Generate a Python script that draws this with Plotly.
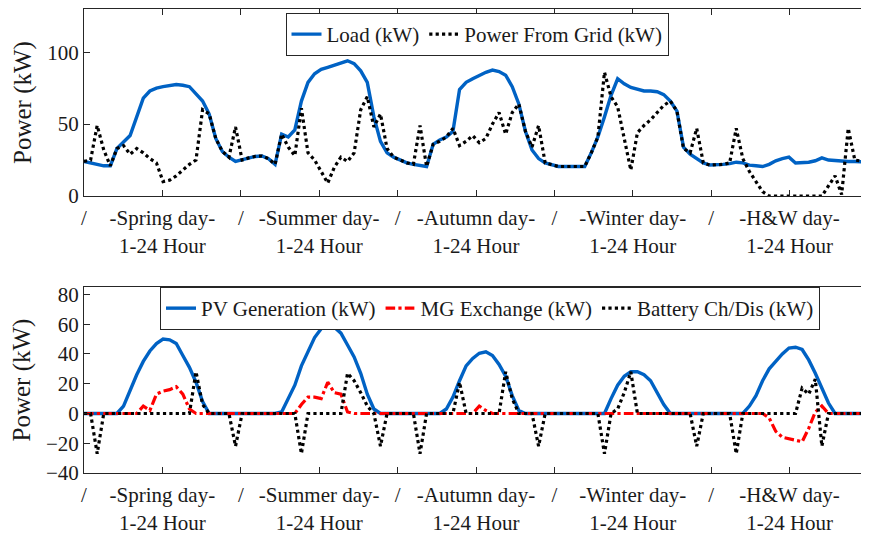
import plotly.graph_objects as go

hours = list(range(1, 121))

load_kw = [
    # Spring
    24, 23, 22, 21, 21, 33, 37.5, 42, 55, 68, 73, 75, 76, 77, 77.5, 77, 76, 71, 66, 57, 40, 31, 27, 24,
    # Summer
    25, 26.5, 27.5, 27.8, 26, 22, 43, 41, 46, 66, 79, 85, 88, 89.5, 91, 93, 94, 92, 87, 79, 55, 38, 30, 27,
    # Autumn
    25, 23, 22, 21, 20.5, 36, 39, 41, 45, 74, 79, 81.5, 84, 86, 87.5, 86.5, 84, 76, 64, 45, 32, 26, 23, 21.5,
    # Winter
    20.5, 20.5, 20.5, 20.5, 20.5, 30, 41, 55, 70, 81.5, 78, 75.5, 74, 73, 73, 72.5, 70.5, 66, 59, 34, 29, 26, 23, 21.5,
    # H&W
    21.5, 22, 22.5, 23.5, 23, 21.5, 21, 20.5, 22, 24.5, 26, 27, 23, 23, 23.5, 24.5, 26.5, 25, 24.5, 24, 24, 24, 23.5, 23.5,
]

grid_kw = [
    # Spring
    24, 25, 49, 32, 21, 33, 35, 29, 33, 30, 26, 23, 10, 11, 14, 18, 22, 25, 60, 57, 40, 31, 27, 48,
    # Summer
    25, 26.5, 27.5, 27.8, 26, 22, 43, 34, 28, 61, 30, 25, 17, 9, 20, 27, 24, 30, 60, 69, 48, 57, 33, 27,
    # Autumn
    25, 23, 22, 49, 20.5, 36, 38, 41, 47, 35, 38, 42, 37, 40, 50, 58, 43, 58, 64, 45, 34, 49, 23, 21.5,
    # Winter
    20.5, 20.5, 20.5, 20.5, 20.5, 30, 41, 86, 69, 62, 40, 18, 44, 49, 53, 58, 63, 66, 59, 33, 30, 47, 23, 21.5,
    # H&W
    21.5, 22, 23, 47, 26, 17, 10, 3, 0, 0, 0, 0, 0, 0, 0, 0, 0, 7, 14, 1, 47, 25, 24, 23.5,
]

pv_kw = [
    # Spring
    0, 0, 0, 0, 0, 0, 5, 16, 26, 35, 42, 47, 50, 49.5, 47, 39, 31, 21, 8, 0, 0, 0, 0, 0,
    # Summer
    0, 0, 0, 0, 0, 0, 1, 10, 19, 32, 41, 51, 57, 60, 58, 54, 46, 38, 27, 13, 3, 0, 0, 0,
    # Autumn
    0, 0, 0, 0, 0, 0, 0, 3, 11, 22, 32, 37, 40.5, 41.5, 39, 33, 25, 12, 2, 0, 0, 0, 0, 0,
    # Winter
    0, 0, 0, 0, 0, 0, 0, 0, 10, 19, 25, 28, 28, 26, 22, 14, 6, 0, 0, 0, 0, 0, 0, 0,
    # H&W
    0, 0, 0, 0, 0, 5, 12, 22, 30, 35, 40, 44, 44.5, 43, 36, 27, 17, 7, 0, 0, 0, 0, 0, 0,
]

mg_kw = [
    # Spring
    0, 0, 0, 0, 0, 0, 0, 0, 0, 5, 2, 13, 15, 16, 18, 13, 3, 0, 0, 0, 0, 0, 0, 0,
    # Summer
    0, 0, 0, 0, 0, 0, 0, 0, 0, 6, 11, 11, 10, 21, 14, 13, 1, 0, 0, 0, 0, 0, 0, 0,
    # Autumn
    0, 0, 0, 0, 0, 0, 0, 0, 0, 0, 0, 0, 5, 2, 0, 0, 0, 0, 0, 0, 0, 0, 0, 0,
    # Winter
    0, 0, 0, 0, 0, 0, 0, 0, 0, 0, 0, 0, 0, 0, 0, 0, 0, 0, 0, 0, 0, 0, 0, 0,
    # H&W
    0, 0, 0, 0, 0, 0, 0, 0, -3, -12, -16, -17, -18, -19, -10, 1, 5, 0, 0, 0, 0, 0, 0, 0,
]

battery_kw = [
    # Spring
    0, 0, -27, 0, 0, 0, 0, 0, 0, 0, 0, 0, 0, 0, 0, 0, 0, 28, 6, 0, 0, 0, 0, -22,
    # Summer
    0, 0, 0, 0, 0, 0, 0, 0, 0, -27, 0, 0, 0, 0, 0, 0, 27, 22, 14, 5, 0, -22, 0, 0,
    # Autumn
    0, 0, 0, -27, 0, 0, 0, 0, 0, 21, 0, 0, 0, 0, 0, 0, 28, 10, 0, 0, 0, -22, 0, 0,
    # Winter
    0, 0, 0, 0, 0, 0, 0, -27, 0, 3, 14, 28, 0, 0, 0, 0, 0, 0, 0, 0, 0, -22, 0, 0,
    # H&W
    0, 0, 0, -27, 0, 0, 0, 0, 0, 0, 0, 0, 0, 17, 13, 23, -22, 0, 0, 0, 0, 0, 0, 0,
]

tick_text = ["/", "-Spring day-<br>1-24 Hour", "/", "-Summer day-<br>1-24 Hour", "/",
             "-Autumn day-<br>1-24 Hour", "/", "-Winter day-<br>1-24 Hour", "/",
             "-H&W day-<br>1-24 Hour", "/"]
tick_vals = [1 + k * 11.9 for k in range(11)]

BLUE = "#0062C4"
FONT = "Liberation Serif, Times New Roman, serif"
AX = "#262626"
TXT = "#1a1a1a"

# The page body adds an 8 px margin, so the figure is 8 px smaller than the window
W, H = 861, 530

fig = go.Figure()
fig.add_trace(go.Scatter(x=hours, y=load_kw, mode="lines", name="Load (kW)",
                         line=dict(color=BLUE, width=3.4), xaxis="x", yaxis="y", legend="legend"))
fig.add_trace(go.Scatter(x=hours, y=grid_kw, mode="lines", name="Power From Grid (kW)",
                         line=dict(color="black", width=3.2, dash="dot"), xaxis="x", yaxis="y", legend="legend"))
fig.add_trace(go.Scatter(x=hours, y=pv_kw, mode="lines", name="PV Generation (kW)",
                         line=dict(color=BLUE, width=3.4), xaxis="x2", yaxis="y2", legend="legend2"))
fig.add_trace(go.Scatter(x=hours, y=mg_kw, mode="lines", name="MG Exchange (kW)",
                         line=dict(color="#FF0000", width=3.2, dash="dashdot"), xaxis="x2", yaxis="y2", legend="legend2"))
fig.add_trace(go.Scatter(x=hours, y=battery_kw, mode="lines", name="Battery Ch/Dis (kW)",
                         line=dict(color="black", width=3.2, dash="dot"), xaxis="x2", yaxis="y2", legend="legend2"))

xcommon = dict(range=[1, 120], tickmode="array", tickvals=tick_vals, ticktext=tick_text,
               showline=True, linecolor=AX, linewidth=1, mirror="ticks", ticks="inside",
               ticklen=6, tickcolor=AX, showgrid=False, zeroline=False,
               tickfont=dict(family=FONT, size=21, color=TXT), ticklabelstandoff=3,
               automargin=False)
ycommon = dict(showline=True, linecolor=AX, linewidth=1, mirror="ticks", ticks="inside",
               ticklen=6, tickcolor=AX, showgrid=False, zeroline=False,
               tickfont=dict(family=FONT, size=21, color=TXT),
               title=dict(text="Power (kW)", font=dict(family=FONT, size=25, color=TXT), standoff=8),
               automargin=False)

L = 76
PW = W - L - 1

def px(xw):
    return (xw - 8 - L) / PW

def py(yw):
    return 1 - (yw - 8) / H

fig.update_layout(
    width=W, height=H,
    paper_bgcolor="white", plot_bgcolor="white",
    margin=dict(l=L, r=1, t=0, b=0),
    showlegend=True,
    xaxis=dict(**xcommon, domain=[0, 1], anchor="y"),
    yaxis=dict(**ycommon, domain=[py(196), py(9)], range=[0, 130],
               tickvals=[0, 50, 100], anchor="x"),
    xaxis2=dict(**xcommon, domain=[0, 1], anchor="y2"),
    yaxis2=dict(**ycommon, domain=[py(473), py(287)], range=[-40, 85],
                tickvals=[-40, -20, 0, 20, 40, 60, 80], anchor="x2"),
    legend=dict(orientation="h", x=px(477), xanchor="center", y=py(13), yanchor="top",
                bgcolor="white", bordercolor=AX, borderwidth=1,
                font=dict(family=FONT, size=21, color=TXT), itemwidth=30),
    legend2=dict(orientation="h", x=px(490), xanchor="center", y=py(287), yanchor="top",
                 bgcolor="white", bordercolor=AX, borderwidth=1,
                 font=dict(family=FONT, size=21, color=TXT), itemwidth=30),
)

fig.write_html("out.html")
